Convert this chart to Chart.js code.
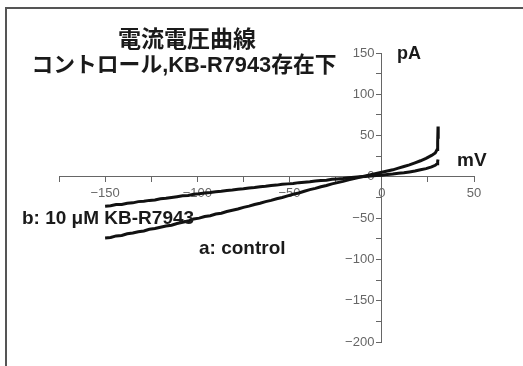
<!DOCTYPE html>
<html><head><meta charset="utf-8">
<script src="https://cdn.jsdelivr.net/npm/chart.js@4.4.1/dist/chart.umd.min.js"></script>
<style>
html,body{margin:0;padding:0;background:#fff;}
#wrap{position:relative;width:523px;height:366px;overflow:hidden;background:#fff;}
canvas{position:absolute;left:0;top:0;}
.lbl{position:absolute;white-space:nowrap;font-weight:bold;color:#1a1a1a;line-height:1;transform:translateY(-50%);font-family:"Liberation Sans","Noto Sans CJK JP",sans-serif;}
.frame{position:absolute;left:5px;top:7px;width:700px;height:500px;border-top:2px solid #555;border-left:2px solid #555;}
</style></head><body>
<div id="wrap">
<canvas id="c" width="523" height="366"></canvas>
<div class="frame"></div>
<div class="lbl" style="left:187px;top:37px;font-size:23px;transform:translate(-50%,-50%);font-family:'Noto Sans CJK JP',sans-serif;">電流電圧曲線</div>
<div class="lbl" style="left:184px;top:65px;font-size:21.8px;transform:translate(-50%,-50%);">コントロール,KB-R7943存在下</div>
<div class="lbl" style="left:397px;top:53px;font-size:18px;">pA</div>
<div class="lbl" style="left:457px;top:159px;font-size:19px;">mV</div>
<div class="lbl" style="left:22px;top:217px;font-size:19px;">b: 10 μM KB-R7943</div>
<div class="lbl" style="left:199px;top:247px;font-size:19px;">a: control</div>
</div>
<script>
// a: control (membrane potential mV, current pA)
const controlV = [-150,-147,-144,-141,-138,-135,-132,-129,-126,-123,-120,-117,-114,-111,-108,-105,-102,-99,-96,-93,-90,-87,-84,-81,-78,-75,-72,-69,-66,-63,-60,-57,-54,-51,-48,-45,-42,-39,-36,-33,-30,-27,-24,-21,-18,-15,-12,-9,-6,-3,0,3,6,9,12,15,18,21,24,27,29,30,30.3,30.5,30.6];
const controlI = [-74,-73.5,-71.5,-71,-69,-68,-66.5,-65.5,-63.5,-62.5,-61,-59.5,-58.5,-56.5,-55,-53.5,-51,-50,-48,-47,-45,-44,-42,-40.5,-39,-37,-35.5,-33.5,-32,-30,-28.5,-26.5,-25,-23,-21,-19.5,-17.5,-15.5,-14,-12,-10.5,-8.5,-7,-5.5,-3.5,-2,-0.5,1,2.5,4,5.5,7,8.5,10.5,12.5,14.5,17,19.5,22.5,26,29,33,42,61,46];
// b: 10 uM KB-R7943
const kbV = [-150,-147,-144,-141,-138,-135,-132,-129,-126,-123,-120,-117,-114,-111,-108,-105,-102,-99,-96,-93,-90,-87,-84,-81,-78,-75,-72,-69,-66,-63,-60,-57,-54,-51,-48,-45,-42,-39,-36,-33,-30,-27,-24,-21,-18,-15,-12,-9,-6,-3,0,3,6,9,12,15,18,21,24,27,29,30,30.3,30.5];
const kbI = [-35.5,-35,-33.5,-33.5,-32,-31.5,-30,-29.5,-28.5,-28,-26.5,-26,-25,-24,-23,-22.5,-21,-20.5,-19.5,-19,-18,-17.5,-16.5,-16,-15,-14.5,-13.5,-13,-12,-11.5,-10.5,-10,-9,-8.5,-8,-7,-6.5,-6,-5,-4.5,-4,-3,-2.5,-2,-1,-0.5,0,0.5,1,1.5,2,3,3.5,4.5,5,6,7,8.5,10,12,14,16,19,21];

const xMin = -175, xMax = 50, xStep = 25;
const yMin = -200, yMax = 150, yStep = 25;
const xTickLabels = [-150, -100, -50, 0, 50];
const yTickLabels = [150, 100, 50, 0, -50, -100, -150, -200];

function toPts(xs, ys){ return xs.map((x,i)=>({x:x, y:ys[i]})); }
function fmt(v){ return v < 0 ? '\u2212' + Math.abs(v) : String(v); }
const tickFont = {family:'Liberation Sans', size:13};

new Chart(document.getElementById('c'), {
  type: 'scatter',
  data: {
    datasets: [
      {label:'a: control', data: toPts(controlV, controlI), showLine:true, borderColor:'#111', borderWidth:3, pointRadius:0, tension:0},
      {label:'b: 10 μM KB-R7943', data: toPts(kbV, kbI), showLine:true, borderColor:'#111', borderWidth:3, pointRadius:0, tension:0}
    ]
  },
  options: {
    responsive:false, animation:false,
    layout:{padding:{left:59, right:49, top:53, bottom:24}},
    plugins:{legend:{display:false}, tooltip:{enabled:false}, title:{display:false}},
    scales:{
      x:{type:'linear', min:xMin, max:xMax, position:{y:0},
        grid:{drawOnChartArea:false, drawTicks:true, tickLength:5, color:'#666'},
        border:{display:true, color:'#666', width:1},
        ticks:{stepSize:xStep, autoSkip:false, maxRotation:0, padding:4, color:'#666', font:tickFont,
          callback:(v)=> xTickLabels.includes(v) ? fmt(v) : ''}
      },
      y:{type:'linear', min:yMin, max:yMax, position:{x:0},
        grid:{drawOnChartArea:false, drawTicks:true, tickLength:5, color:'#666'},
        border:{display:true, color:'#666', width:1},
        ticks:{stepSize:yStep, autoSkip:false, color:'#666', font:tickFont,
          callback:()=> ''}
      },
      yLabels:{type:'linear', min:yMin, max:yMax, position:{x:-4},
        grid:{display:false, drawOnChartArea:false, drawTicks:false},
        border:{display:false},
        ticks:{stepSize:yStep, autoSkip:false, color:'#666', font:tickFont,
          callback:(v)=> yTickLabels.includes(v) ? fmt(v) : ''}
      }
    }
  }
});
</script>
</body></html>
